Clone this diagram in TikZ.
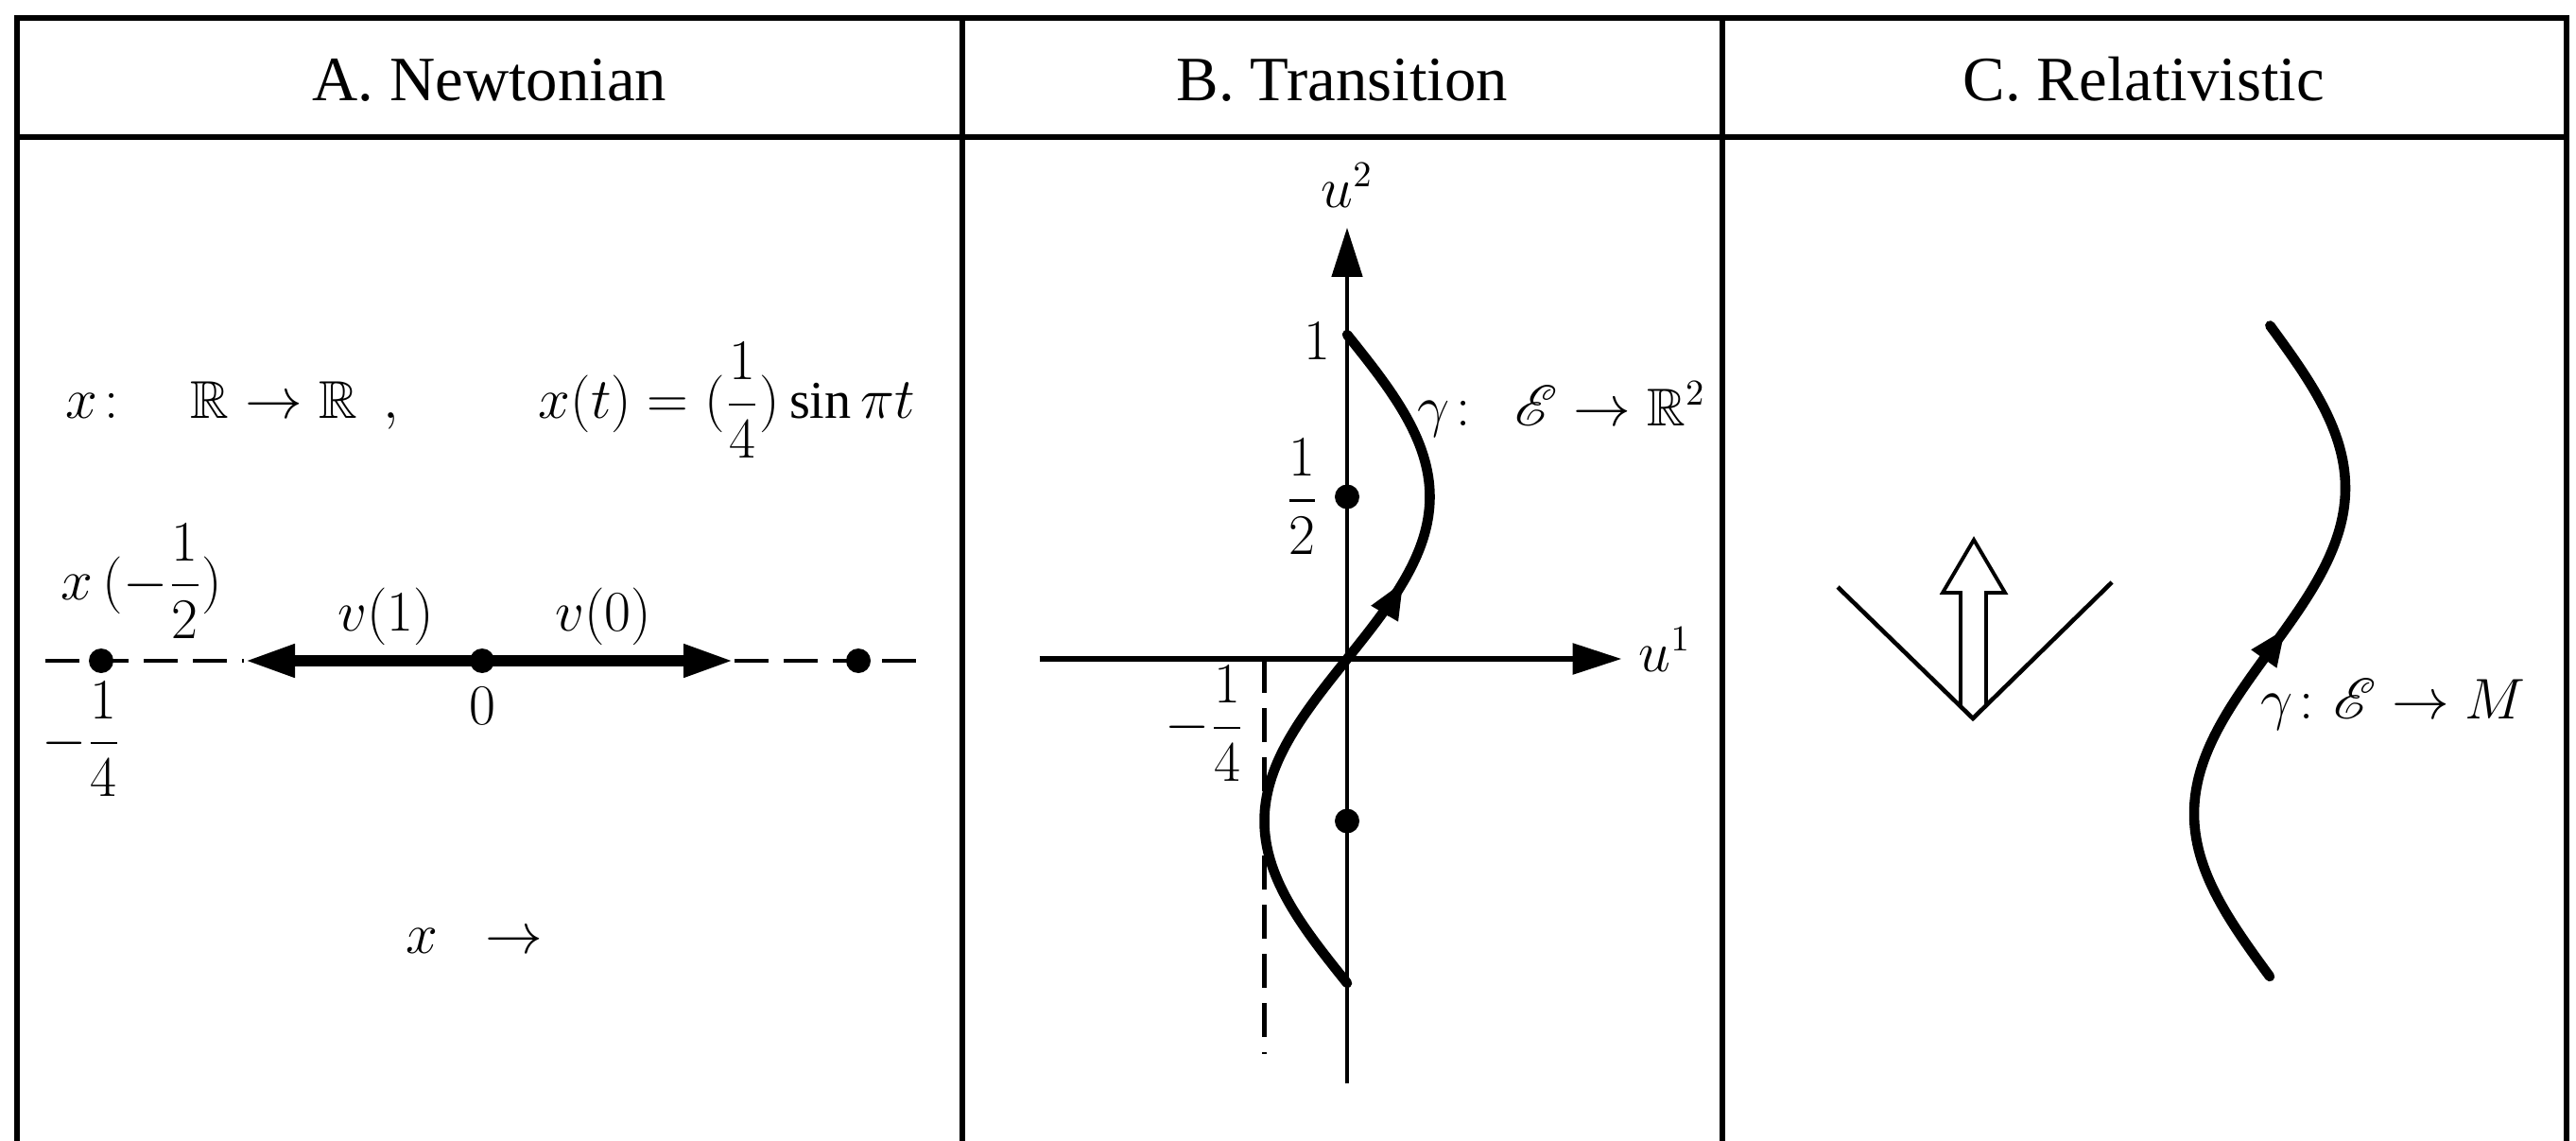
\documentclass[tikz,border=0pt]{standalone}
\usepackage{amsmath}
\usepackage{amssymb}
\usepackage{mathrsfs}
\usepackage{fontspec}
\setmainfont{Liberation Serif}
\usetikzlibrary{arrows.meta, positioning}

\tikzstyle{frame} = [line width=1.6pt]
\tikzstyle{head} = [
    font=\fontsize{19}{23}\selectfont,
    anchor=base
]
\tikzstyle{lbl} = [
    font=\fontsize{16}{19}\selectfont,
    inner sep=0pt
]
\tikzstyle{dot} = [
    circle,
    fill=black,
    inner sep=0pt,
    minimum size=2.6mm
]
\tikzstyle{dashline} = [line width=1.4pt, dash pattern=on 3.6mm off 1.6mm]
\tikzstyle{velocity} = [line width=3.6pt, -{Triangle[length=5.4mm, width=3.2mm]}]
\tikzstyle{axis} = [line width=1.7pt, -{Triangle[length=5.2mm, width=3.2mm]}]
\tikzstyle{cone} = [line width=1.3pt]
\tikzstyle{hollow} = [line width=1.1pt, line join=miter]
\tikzstyle{worldline} = [line width=3pt, line cap=round]
\tikzstyle{sense} = [line width=3pt, -{Triangle[length=4mm, width=3mm]}]

\begin{document}
\begin{tikzpicture}[x=1cm, y=-1cm]
\useasboundingbox (0,0) rectangle (27.25,12.07);

% table
\draw [frame] (0.18,12.07) -- (0.18,0.19) -- (27.15,0.19) -- (27.15,12.07);
\draw [frame] (0.18,1.45) -- (27.15,1.45);
\draw [frame] (10.18,0.19) -- (10.18,12.07);
\draw [frame] (18.22,0.19) -- (18.22,12.07);

\node (newton) [head] at (5.18,1.07) {A. Newtonian};
\node (trans) [head] at (14.20,1.07) {B. Transition};
\node (relat) [head] at (22.68,1.07) {C. Relativistic};

% A
\node (mapA) [lbl, anchor=base] at (2.46,4.43) {$x\colon\quad\mathbb{R}\rightarrow\mathbb{R}\ \ ,$};
\node (lawA) [lbl, anchor=base] at (7.69,4.43) {$x(t)=(\dfrac{1}{4})\sin\pi t$};

\node (xm) [dot] at (1.07,6.99) {};
\node (zero) [dot] at (5.10,6.99) {};
\node (xp) [dot] at (9.08,6.99) {};
\coordinate (dl) at (0.48,6.99);
\coordinate (dr) at (9.80,6.99);
\coordinate (vl) at (2.58,6.99);
\coordinate (vr) at (7.77,6.99);

\draw [dashline] (dl) -- (vl);
\draw [dashline] (vr) -- (dr);
\draw [velocity] (zero.center) -- (vl);
\draw [velocity] (zero.center) -- (vr);

\node (xmlbl) [lbl] at (1.50,6.15) {$x\,(-\dfrac{1}{2})$};
\node (v1lbl) [lbl] at (4.08,6.52) {$v(1)$};
\node (v0lbl) [lbl] at (6.38,6.52) {$v(0)$};
\node (zerolbl) [lbl, below=0.14cm of zero] {$0$};
\node (quarter) [lbl] at (0.86,7.82) {$-\dfrac{1}{4}$};
\node (xto) [lbl] at (5.02,9.95) {$x\;\;\rightarrow$};

% B
\begin{scope}[shift={(14.25,6.97)}, x=3.5cm, y=3.43cm]
\coordinate (h1) at (-0.93,0);
\coordinate (h2) at (0.83,0);
\coordinate (w1) at (0,-1.31);
\coordinate (w2) at (0,1.33);
\coordinate (qa) at (-0.25,0);
\coordinate (qb) at (-0.25,-1.22);
\coordinate (sb1) at (0.113,0.139);
\coordinate (sb2) at (0.171,0.24);

\draw [axis] (h1) -- (h2);
\draw [axis, line width=1.3pt] (w1) -- (w2);
\draw [dashline] (qa) -- (qb);
\draw [worldline] plot[domain=-1:1, samples=80, smooth] ({0.25*sin(180*\x)}, \x);
\draw [sense] (sb1) -- (sb2);

\node (uhalf) [dot] at (0,0.5) {};
\node (umhalf) [dot] at (0,-0.5) {};

\node (u2) [lbl] at (0,1.46) {$u^2$};
\node (u1) [lbl, anchor=base west] at (0.88,-0.04) {$u^1$};
\node (one) [lbl] at (-0.09,0.98) {$1$};
\node (halflbl) [lbl, left=0.15cm of uhalf] {$\dfrac{1}{2}$};
\node (mquarter) [lbl] at (-0.43,-0.20) {$-\dfrac{1}{4}$};
\node (gammaB) [lbl, anchor=west] at (0.21,0.77) {$\gamma\colon\;\,\mathscr{E}\rightarrow\mathbb{R}^2$};
\end{scope}

% C
\coordinate (apex) at (20.87,7.60);
\coordinate (cl) at (19.44,6.21);
\coordinate (cr) at (22.34,6.16);
\coordinate (sc1) at (23.948,6.970);
\coordinate (sc2) at (24.18,6.644);
\draw [cone] (cl) -- (apex) -- (cr);
\draw [hollow] (20.74,7.47) -- (20.74,6.27) -- (20.55,6.27) -- (20.88,5.71)
    -- (21.21,6.27) -- (21.01,6.27) -- (21.01,7.46);

\draw [worldline] plot[domain=0:1, samples=80, smooth] ({24.01-0.8*sin(360*\x)}, {10.33-6.89*\x});
\draw [sense] (sc1) -- (sc2);
\node (gammaC) [lbl, anchor=west] at (23.91,7.45) {$\gamma\colon\mathscr{E}\rightarrow M$};

\end{tikzpicture}
\end{document}
